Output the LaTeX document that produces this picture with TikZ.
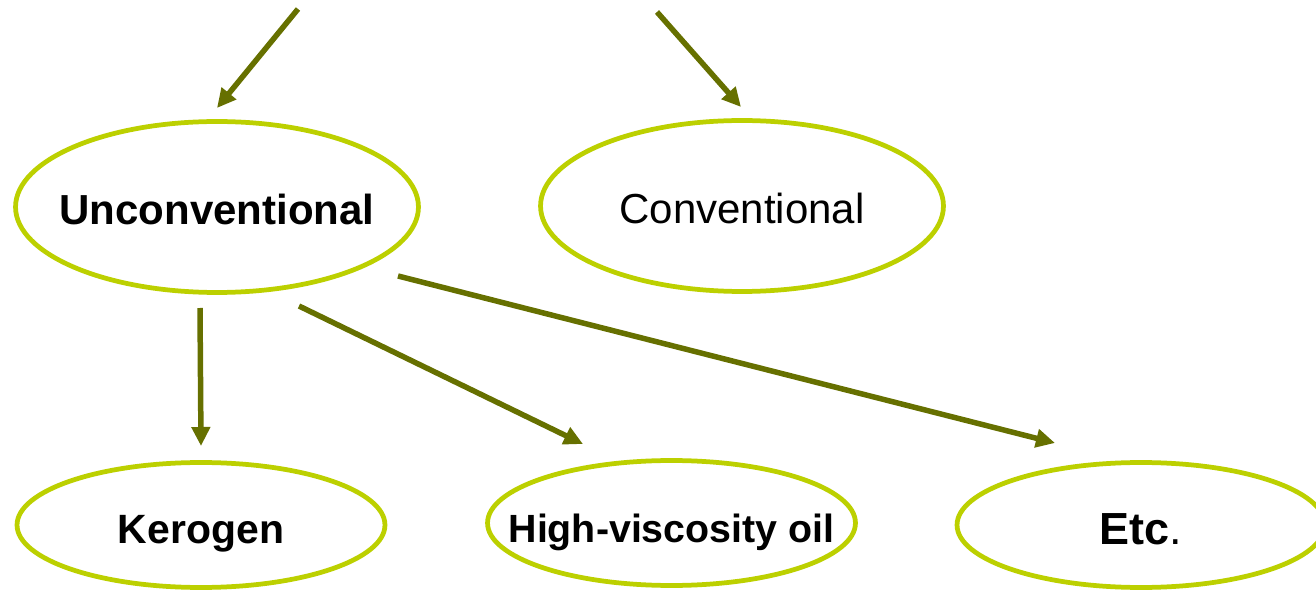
\documentclass[tikz,border=0pt]{standalone}
\usepackage{fontspec}
\setmainfont{Liberation Sans}
\usetikzlibrary{arrows.meta,shapes.geometric}
\definecolor{ovalline}{RGB}{188,208,0}
\definecolor{arrowline}{RGB}{102,112,0}

\begin{document}
\begin{tikzpicture}[
    x=0.02cm, y=-0.02cm,
    oval/.style={ellipse, draw=ovalline, line width=0.095cm, inner sep=-1cm, text height=0.72cm, text depth=0pt, minimum width=7.36cm, minimum height=2.5cm},
    bigoval/.style={oval, minimum width=8.06cm, minimum height=3.42cm},
    arrow/.style={-{Triangle[length=0.38cm,width=0.36cm]}, draw=arrowline, line width=0.11cm}
]
\useasboundingbox (0,0) rectangle (1316,591);
\node[bigoval, font=\fontsize{23.9}{28}\selectfont\bfseries] (unconv) at (217,207) {Unconventional};
\node[bigoval, font=\fontsize{23.9}{28}\selectfont] (conv) at (742,206) {Conventional};
\node[oval, text height=0.74cm, font=\fontsize{23.3}{28}\selectfont\bfseries] (kerogen) at (201,525) {Kerogen};
\node[oval, text height=0.78cm, font=\fontsize{22.4}{28}\selectfont\bfseries] (viscous) at (671.5,523) {High-viscosity oil};
\node[oval, text height=0.8cm, font=\fontsize{25.6}{30}\selectfont] (etc) at (1141,525) {\textbf{Etc}.};
% free arrow ends
\coordinate (src-a) at (298,9);
\coordinate (src-b) at (657,12);
\coordinate (unconv-in) at (217,108);
\coordinate (conv-in) at (741,107);
\coordinate (unconv-out1) at (200,308);
\coordinate (unconv-out2) at (299,306);
\coordinate (unconv-out3) at (398,276);
\coordinate (kerogen-in) at (201,446);
\coordinate (viscous-in) at (583,444);
\coordinate (etc-in) at (1055,443);
\draw[arrow] (src-a) -- (unconv-in);
\draw[arrow] (src-b) -- (conv-in);
\draw[arrow] (unconv-out1) -- (kerogen-in);
\draw[arrow] (unconv-out2) -- (viscous-in);
\draw[arrow] (unconv-out3) -- (etc-in);
\end{tikzpicture}
\end{document}
